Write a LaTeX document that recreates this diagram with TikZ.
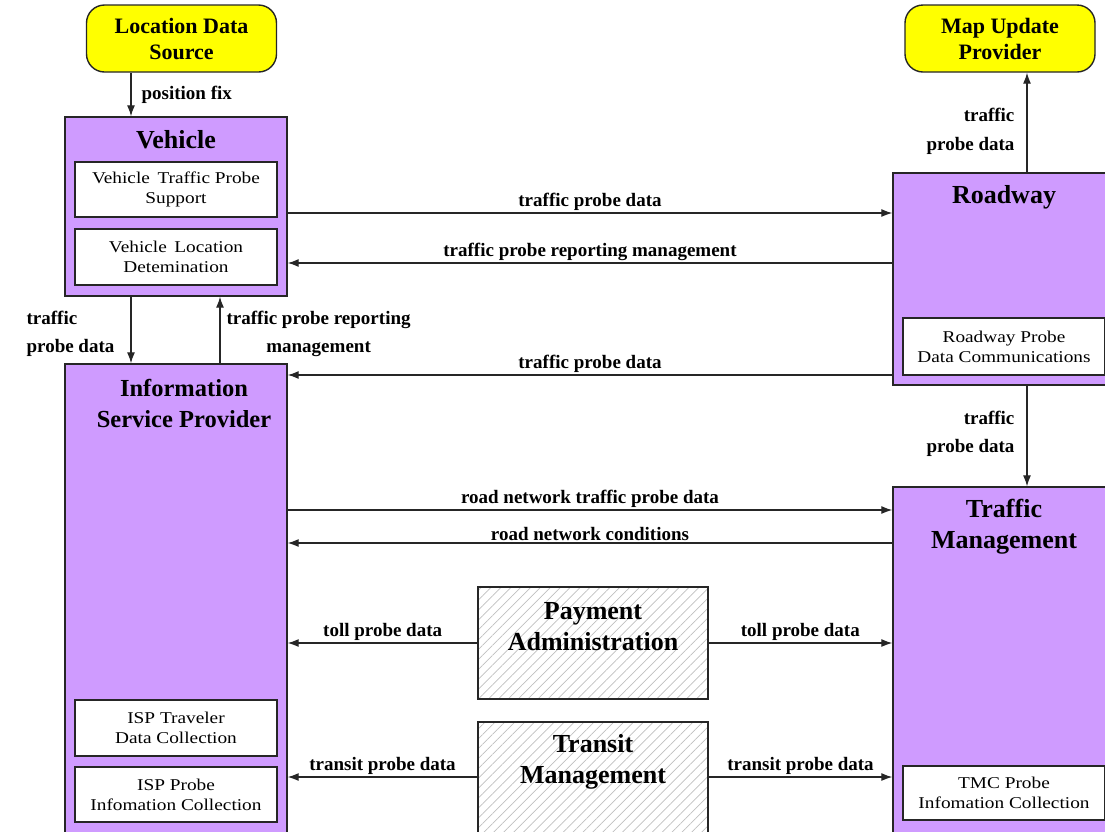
\documentclass[tikz,border=0pt]{standalone}
\usepackage{fontspec}
\setmainfont{Liberation Serif}
\newfontfamily\pobjfont[FakeStretch=1.17]{Liberation Serif}
\usetikzlibrary{arrows.meta,patterns.meta}

\definecolor{sysviolet}{RGB}{207,155,255}
\definecolor{termyellow}{RGB}{255,255,0}

\begin{document}
\begin{tikzpicture}[x=1pt,y=-1pt,
  sys/.style={draw=black!85,line width=1.4pt,fill=sysviolet,minimum width=222pt,inner sep=0pt},
  term/.style={draw=black!85,line width=1.4pt,fill=termyellow,rounded corners=18pt,
    minimum width=190pt,minimum height=67pt,align=center,inner sep=0pt,
    font=\fontsize{22}{26}\selectfont\bfseries},
  other/.style={draw=black!85,line width=1.4pt,fill=white,
    pattern={Lines[angle=45,distance=7pt,line width=0.7pt]},pattern color=black!25,
    minimum width=230pt,inner sep=0pt},
  pobj/.style={draw=black!85,line width=1.2pt,fill=white,minimum width=202pt,
    align=center,inner sep=0pt,font=\pobjfont\fontsize{16.5}{20}\selectfont},
  title/.style={align=center,inner sep=0pt,font=\fontsize{26}{31}\selectfont\bfseries},
  flow/.style={line width=1.2pt,draw=black!85,-{Latex[length=11pt,width=8pt]}},
  lbl/.style={align=center,inner sep=2pt,font=\fontsize{19}{28.5}\selectfont\bfseries}]
\useasboundingbox (0,0) rectangle (1105,831);
\clip (0,0) rectangle (1105,831);

% Terminators
\node[term] (lds) at (181.5,38.5) {Location Data\\Source};
\node[term] (mup) at (1000,38.5) {Map Update\\Provider};

% Vehicle
\node[sys,minimum height=179pt] (veh) at (176,206.5) {};
\node[title] (vehtitle) at (176,140) {Vehicle};
\node[pobj,minimum height=55pt] (vtps) at (176,189.5) {Vehicle\, Traffic Probe\\Support};
\node[pobj,minimum height=56pt] (vld) at (176,257) {Vehicle\, Location\\Detemination};

% Information Service Provider
\node[sys,minimum height=486pt] (isp) at (176,607) {};
\node[title,font=\fontsize{24.5}{31}\selectfont\bfseries] (isptitle) at (184,403) {Information\\Service Provider};
\node[pobj,minimum height=56pt] (isptdc) at (176,728) {ISP Traveler\\Data Collection};
\node[pobj,minimum height=55pt] (ispic) at (176,794.5) {ISP Probe\\Infomation Collection};

% Roadway
\node[sys,minimum height=212pt] (road) at (1004,279) {};
\node[title] (roadtitle) at (1004,197) {Roadway};
\node[pobj,minimum height=57pt] (rpdc) at (1004,346.5) {Roadway Probe\\Data Communications};

% Traffic Management
\node[sys,minimum height=363pt] (tm) at (1004,668.5) {};
\node[title] (tmtitle) at (1004,527) {Traffic\\Management};
\node[pobj,minimum height=54pt] (tmcic) at (1004,793) {TMC Probe\\Infomation Collection};

% Payment and Transit
\node[other,minimum height=112pt] (pay) at (593,643) {};
\node[title] (paytitle) at (593,627) {Payment\\Administration};
\node[other,minimum height=128pt] (trm) at (593,786) {};
\node[title] (trmtitle) at (593,762) {Transit\\Management};

% Vertical flows
\draw[flow] ([xshift=-50.5]lds.south) -- ([xshift=-50.5]lds.south |- veh.north)
  node[lbl,midway,right,xshift=8pt] {position fix};
\draw[flow] ([xshift=-45]veh.south) -- ([xshift=-45]veh.south |- isp.north)
  node[lbl,midway,left,align=left,xshift=-14pt,yshift=-4pt] {traffic\\probe data};
\draw[flow] ([xshift=44]isp.north) -- ([xshift=44]isp.north |- veh.south)
  node[lbl,midway,right,xshift=4pt,yshift=-4pt] {traffic probe reporting\\management};
\draw[flow] ([xshift=23]road.north) -- ([xshift=23]road.north |- mup.south)
  node[lbl,midway,left,align=right,xshift=-10pt,yshift=-9pt] {traffic\\probe data};
\draw[flow] ([xshift=23]road.south) -- ([xshift=23]road.south |- tm.north)
  node[lbl,midway,left,align=right,xshift=-10pt,yshift=2pt] {traffic\\probe data};

% Horizontal flows
\draw[flow] (veh.east |- 0,213) -- (road.west |- 0,213)
  node[lbl,midway,above] {traffic probe data};
\draw[flow] (road.west |- 0,263) -- (veh.east |- 0,263)
  node[lbl,midway,above] {traffic probe reporting management};
\draw[flow] (road.west |- 0,375) -- (isp.east |- 0,375)
  node[lbl,midway,above] {traffic probe data};
\draw[flow] (isp.east |- 0,510) -- (tm.west |- 0,510)
  node[lbl,midway,above] {road network traffic probe data};
\draw[flow] (tm.west |- 0,543) -- (isp.east |- 0,543)
  node[lbl,midway,above] {road network conditions};
\draw[flow] (pay.west |- 0,643) -- (isp.east |- 0,643)
  node[lbl,midway,above] {toll probe data};
\draw[flow] (pay.east |- 0,643) -- (tm.west |- 0,643)
  node[lbl,midway,above] {toll probe data};
\draw[flow] (trm.west |- 0,777) -- (isp.east |- 0,777)
  node[lbl,midway,above] {transit probe data};
\draw[flow] (trm.east |- 0,777) -- (tm.west |- 0,777)
  node[lbl,midway,above] {transit probe data};

\end{tikzpicture}
\end{document}
